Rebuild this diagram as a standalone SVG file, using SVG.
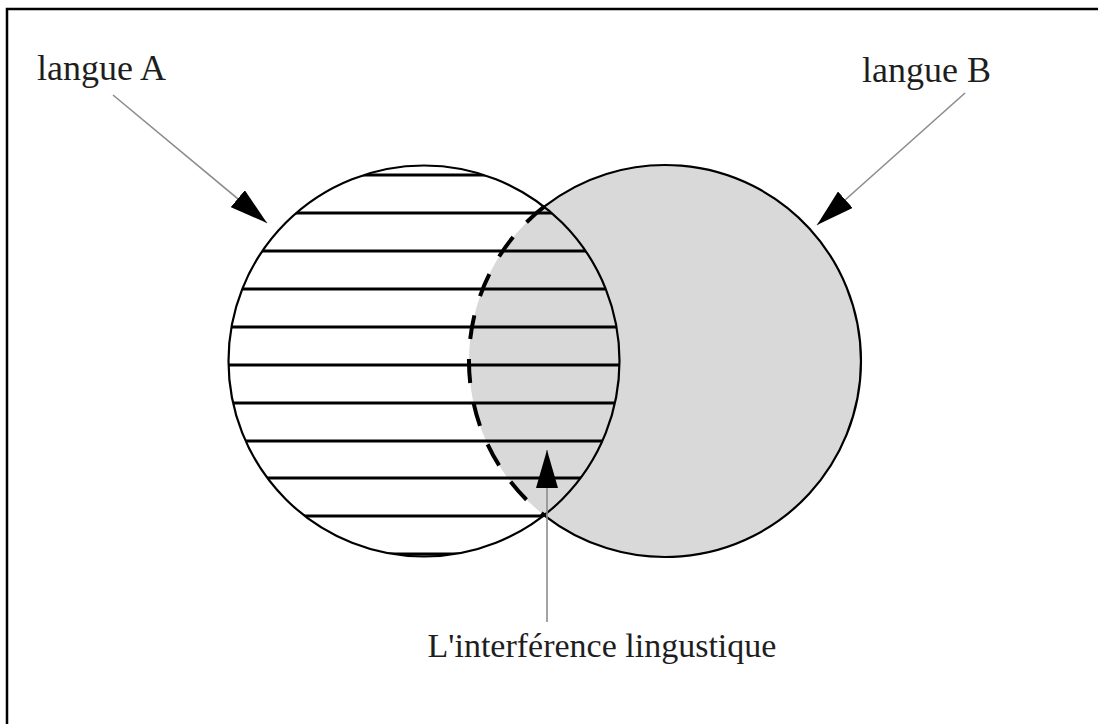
<svg xmlns="http://www.w3.org/2000/svg" width="1098" height="724" viewBox="0 0 1098 724">
  <style>
    .lbl { font-family: "Liberation Serif", "Times New Roman", serif; fill: #1e1e1e; }
    .hatch { stroke: #000; stroke-width: 3; }
    .outline { fill: none; stroke: #000; stroke-width: 2.2; }
    .conn { stroke: #8c8c8c; stroke-width: 1.6; fill: none; }
  </style>
  <defs>
    <clipPath id="clipA">
      <circle cx="424" cy="361" r="195.5"/>
    </clipPath>
    <marker id="head" viewBox="0 0 38 22" refX="38" refY="11" markerWidth="38" markerHeight="22" markerUnits="userSpaceOnUse" orient="auto">
      <path d="M0,0 L38,11 L0,22 Z" fill="#000"/>
    </marker>
  </defs>
  <rect x="0" y="0" width="1098" height="724" fill="#fff"/>
  <path d="M7,724 L7,9 L1098,9" fill="none" stroke="#000" stroke-width="2.5"/>

  <g id="langueB">
    <circle cx="665" cy="361" r="196" fill="#d9d9d9"/>
  </g>

  <g id="langueA">
    <g clip-path="url(#clipA)" class="hatch">
      <line x1="200" y1="175" x2="650" y2="175"/>
      <line x1="200" y1="213" x2="650" y2="213"/>
      <line x1="200" y1="251" x2="650" y2="251"/>
      <line x1="200" y1="289" x2="650" y2="289"/>
      <line x1="200" y1="327" x2="650" y2="327"/>
      <line x1="200" y1="365" x2="650" y2="365"/>
      <line x1="200" y1="403" x2="650" y2="403"/>
      <line x1="200" y1="441" x2="650" y2="441"/>
      <line x1="200" y1="478" x2="650" y2="478"/>
      <line x1="200" y1="516" x2="650" y2="516"/>
      <line x1="200" y1="554" x2="650" y2="554"/>
    </g>
    <circle cx="424" cy="361" r="195.5" class="outline"/>
  </g>

  <g id="langueB-outline">
    <path d="M544.5,206.4 A196,196 0 1 1 544.5,515.6" class="outline"/>
    <path d="M544.5,206.4 A196,196 0 0 0 544.5,515.6" fill="none" stroke="#000" stroke-width="4" stroke-dasharray="24 20"/>
  </g>

  <g id="connectors">
    <line x1="113" y1="95" x2="267" y2="223" class="conn" marker-end="url(#head)"/>
    <line x1="965" y1="93" x2="817" y2="225" class="conn" marker-end="url(#head)"/>
    <line x1="547" y1="622" x2="547" y2="450" class="conn" marker-end="url(#head)"/>
  </g>

  <g id="labels">
    <text class="lbl" x="37" y="80" font-size="36">langue A</text>
    <text class="lbl" x="862" y="82" font-size="36">langue B</text>
    <text class="lbl" x="602" y="657" font-size="34" text-anchor="middle">L'interférence lingustique</text>
  </g>
</svg>
